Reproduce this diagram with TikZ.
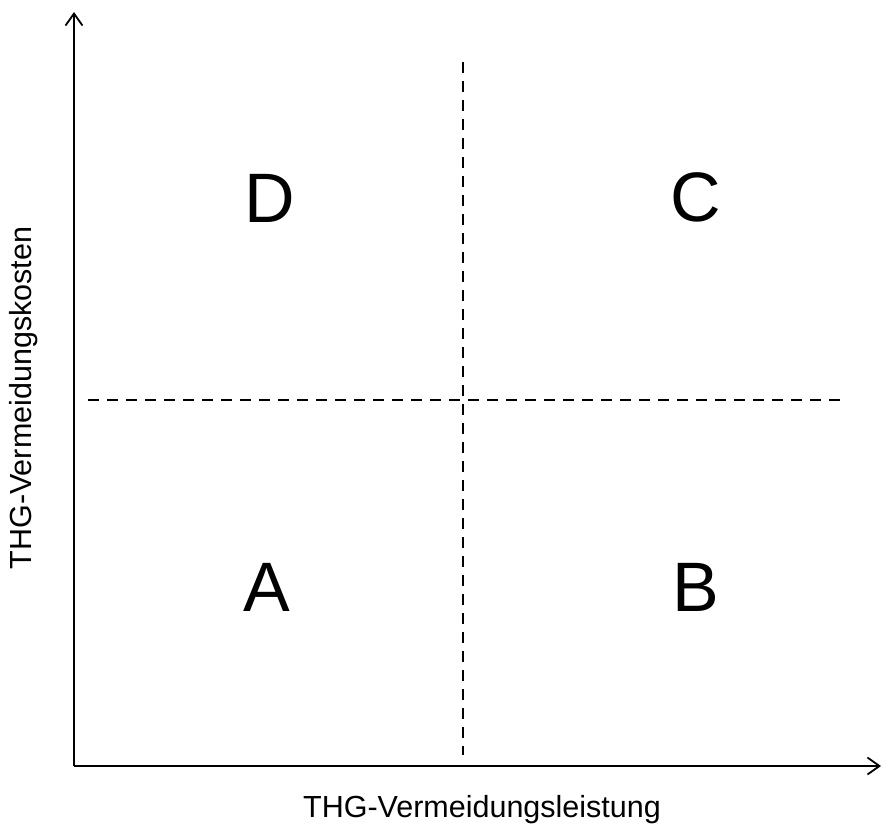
\documentclass[tikz,border=0pt]{standalone}
\usepackage{fontspec}
\setmainfont{Liberation Sans}
\usetikzlibrary{arrows.meta}
\begin{document}
\begin{tikzpicture}[x=1pt,y=-1pt,
  axis/.style={line width=2pt,-{Straight Barb[length=12pt,width=17pt,line width=1.8pt]}},
  divider/.style={line width=1.8pt,dash pattern=on 11pt off 8pt},
  quad/.style={font=\fontsize{70}{74}\selectfont,inner sep=0pt},
  axlabel/.style={font=\fontsize{30.5}{34}\selectfont,inner sep=0pt,anchor=base}]
\useasboundingbox (0,0) rectangle (882,825);
\coordinate (o) at (74,766);
\coordinate (ytop) at (74,12);
\coordinate (xend) at (881,766);
\draw[axis] (o) -- (ytop);
\draw[axis] (o) -- (xend);
\coordinate (hl) at (88,400);
\coordinate (hr) at (840,400);
\coordinate (vt) at (463,62);
\coordinate (vb) at (463,755);
\draw[divider] (hl) -- (hr);
\draw[divider] (vt) -- (vb);
\node[quad] (D) at (270,198) {D};
\node[quad] (C) at (696,197) {C};
\node[quad] (A) at (267,587) {A};
\node[quad] (B) at (696,587) {B};
\node[axlabel] (xl) at (482,817) {THG-Vermeidungsleistung};
\node[axlabel,rotate=90] (yl) at (31,398) {THG-Vermeidungskosten};
\end{tikzpicture}
\end{document}
